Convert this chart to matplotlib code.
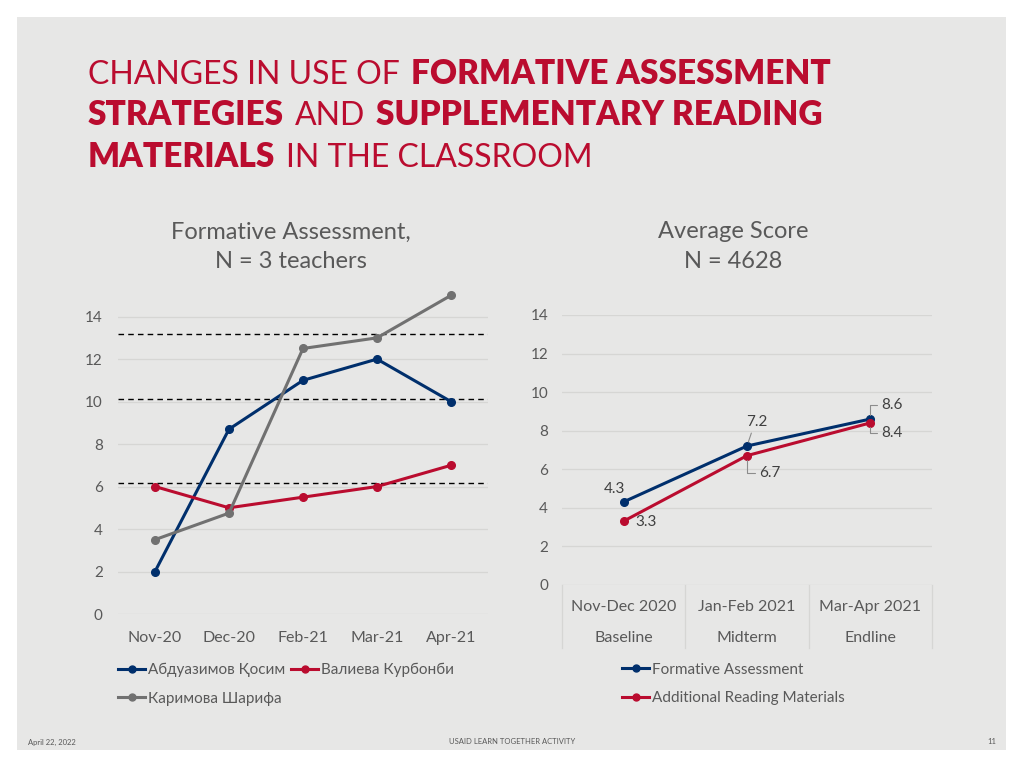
import matplotlib
matplotlib.use("Agg")
import matplotlib.pyplot as plt
from matplotlib.patches import Rectangle
from matplotlib.lines import Line2D

plt.rcParams['font.family'] = ['Lato', 'Noto Sans', 'DejaVu Sans']

# ---- data ----
months = ["Nov-20", "Dec-20", "Feb-21", "Mar-21", "Apr-21"]
teacher_names = ["Абдуазимов Қосим", "Валиева Курбонби", "Каримова Шарифа"]
abduazimov = [2, 8.7, 11, 12, 10]
valieva = [6, 5, 5.5, 6, 7]
karimova = [3.5, 4.75, 12.5, 13, 15]
ref_levels = [13.2, 10.1, 6.15]

periods = ["Nov-Dec 2020", "Jan-Feb 2021", "Mar-Apr 2021"]
phases = ["Baseline", "Midterm", "Endline"]
formative = [4.3, 7.2, 8.6]
reading = [3.3, 6.7, 8.4]

BLUE = "#002f6c"
RED = "#ba0c2f"
GREY = "#717171"
TXT = "#595959"
GRID = "#d6d6d4"
BG = "#e7e7e6"

fig = plt.figure(figsize=(10.24, 7.68), dpi=100, facecolor="white")
W, H = 1024, 768


def fx(px):
    return px / W


def fy(py):
    return 1 - py / H


# slide background
fig.patches.append(Rectangle((fx(17), fy(750)), fx(989), (750 - 17) / H,
                             transform=fig.transFigure, facecolor=BG,
                             edgecolor="none", zorder=-10))

# ---- title, built piece by piece ----
title_lines = [
    [("CHANGES IN USE OF", False), ("FORMATIVE ASSESSMENT", True)],
    [("STRATEGIES", True), ("AND", False), ("SUPPLEMENTARY READING", True)],
    [("MATERIALS", True), ("IN THE CLASSROOM", False)],
]
baselines = [84, 125, 167]
fig.canvas.draw()
renderer = fig.canvas.get_renderer()
for line, base in zip(title_lines, baselines):
    x = 88
    for txt, bold in line:
        t = fig.text(fx(x), fy(base), txt, fontsize=24 if bold else 23,
                     fontweight="heavy" if bold else "normal", color=RED,
                     ha="left", va="baseline")
        bb = t.get_window_extent(renderer)
        x += bb.width + 11

# ---- left chart ----
ax1 = fig.add_axes([fx(118), fy(614), fx(370), (614 - 289) / H])
ax1.set_facecolor("none")
xs = range(len(months))
for vals, col in [(abduazimov, BLUE), (valieva, RED), (karimova, GREY)]:
    ax1.plot(xs, vals, color=col, lw=2.2, marker="o", ms=5.5, clip_on=False,
             zorder=3)
for lvl in ref_levels:
    ax1.axhline(lvl, color="black", lw=1.0, ls=(0, (4, 3)), zorder=2)
ax1.set_xlim(-0.5, 4.5)
ax1.set_ylim(0, 15.3)
ax1.set_yticks(range(0, 15, 2))
ax1.set_xticks(list(xs))
ax1.set_xticklabels(months)
ax1.grid(axis="y", color=GRID, lw=0.9)
ax1.set_axisbelow(True)
for s in ax1.spines.values():
    s.set_visible(False)
ax1.tick_params(length=0, colors=TXT, labelsize=11.5)
ax1.tick_params(axis="y", pad=11, labelsize=11)
ax1.tick_params(axis="x", pad=12)
fig.text(fx(291), fy(232), "Formative Assessment,", fontsize=17, color=TXT,
         ha="center", va="center")
fig.text(fx(291), fy(262), "N = 3 teachers", fontsize=17, color=TXT,
         ha="center", va="center")

h_blue = Line2D([], [], color=BLUE, lw=2.2, marker="o", ms=5)
h_red = Line2D([], [], color=RED, lw=2.2, marker="o", ms=5)
h_grey = Line2D([], [], color=GREY, lw=2.2, marker="o", ms=5)
fig.legend([h_blue, h_grey, h_red],
           [teacher_names[0], teacher_names[2], teacher_names[1]],
           ncol=2, loc="upper left", bbox_to_anchor=(fx(104), fy(649)),
           frameon=False, fontsize=11, labelcolor=TXT, handlelength=1.8,
           handletextpad=0.15, columnspacing=0.4, labelspacing=0.95)

# ---- right chart ----
ax2 = fig.add_axes([fx(562), fy(584.7), fx(370), 269.7 / H])
ax2.set_facecolor("none")
xr = range(len(periods))
ax2.plot(xr, formative, color=BLUE, lw=2.2, marker="o", ms=5.5, zorder=3,
         clip_on=False)
ax2.plot(xr, reading, color=RED, lw=2.2, marker="o", ms=5.5, zorder=3,
         clip_on=False)
ax2.set_xlim(-0.5, 2.5)
ax2.set_ylim(0, 14)
ax2.set_yticks(range(0, 15, 2))
ax2.set_xticks([])
ax2.grid(axis="y", color=GRID, lw=0.9)
ax2.set_axisbelow(True)
for s in ax2.spines.values():
    s.set_visible(False)
ax2.tick_params(length=0, colors=TXT, labelsize=11, pad=10)

# category table under the axis
tr = ax2.get_xaxis_transform()
for i, (p, ph) in enumerate(zip(periods, phases)):
    ax2.text(i, -0.082, p, transform=tr, ha="center", va="center",
             fontsize=11.5, color=TXT)
    ax2.text(i, -0.197, ph, transform=tr, ha="center", va="center",
             fontsize=11.5, color=TXT)
for b in [-0.5, 0.5, 1.5, 2.5]:
    ax2.add_line(Line2D([b, b], [0, -0.235], transform=tr, color=GRID,
                        lw=0.9, clip_on=False))

lab_kw = dict(textcoords="offset pixels", fontsize=11, color="#404040",
              va="center")
lead = dict(arrowstyle="-", color="#8c8c8c", lw=0.8, shrinkA=1, shrinkB=3)
ax2.annotate(f"{formative[0]}", (0, formative[0]), xytext=(-9, 13),
             ha="center", **lab_kw)
ax2.annotate(f"{reading[0]}", (0, reading[0]), xytext=(12, -1), ha="left",
             **lab_kw)
ax2.annotate(f"{formative[1]}", (1, formative[1]), xytext=(10, 24),
             ha="center", arrowprops=dict(lead, relpos=(0.3, 0)), **lab_kw)
ax2.annotate(f"{reading[1]}", (1, reading[1]), xytext=(12, -17), ha="left",
             arrowprops=dict(lead, relpos=(0, 0.5),
                             connectionstyle="angle,angleA=0,angleB=90,rad=0"),
             **lab_kw)
ax2.annotate(f"{formative[2]}", (2, formative[2]), xytext=(11, 14), ha="left",
             arrowprops=dict(lead, relpos=(0, 0.5),
                             connectionstyle="angle,angleA=0,angleB=90,rad=0"),
             **lab_kw)
ax2.annotate(f"{reading[2]}", (2, reading[2]), xytext=(11, -10), ha="left",
             arrowprops=dict(lead, relpos=(0, 0.5),
                             connectionstyle="angle,angleA=0,angleB=90,rad=0"),
             **lab_kw)

fig.text(fx(733), fy(232), "Average Score", fontsize=17, color=TXT,
         ha="center", va="center")
fig.text(fx(733), fy(262), "N = 4628", fontsize=17, color=TXT,
         ha="center", va="center")

fig.legend([h_blue, h_red], ["Formative Assessment", "Additional Reading Materials"],
           loc="upper left", bbox_to_anchor=(fx(608), fy(649)), frameon=False,
           fontsize=11, labelcolor=TXT, handlelength=1.8, handletextpad=0.15,
           labelspacing=0.95)

# footer
fig.text(fx(28), fy(742), "April 22, 2022", fontsize=5.5, color=TXT,
         va="center")
fig.text(fx(512), fy(742), "USAID LEARN TOGETHER ACTIVITY", fontsize=5.5,
         color=TXT, va="center", ha="center")
fig.text(fx(992), fy(742), "11", fontsize=5.5, color=TXT, va="center",
         ha="center")

fig.savefig("out.png", dpi=100, facecolor="white")
